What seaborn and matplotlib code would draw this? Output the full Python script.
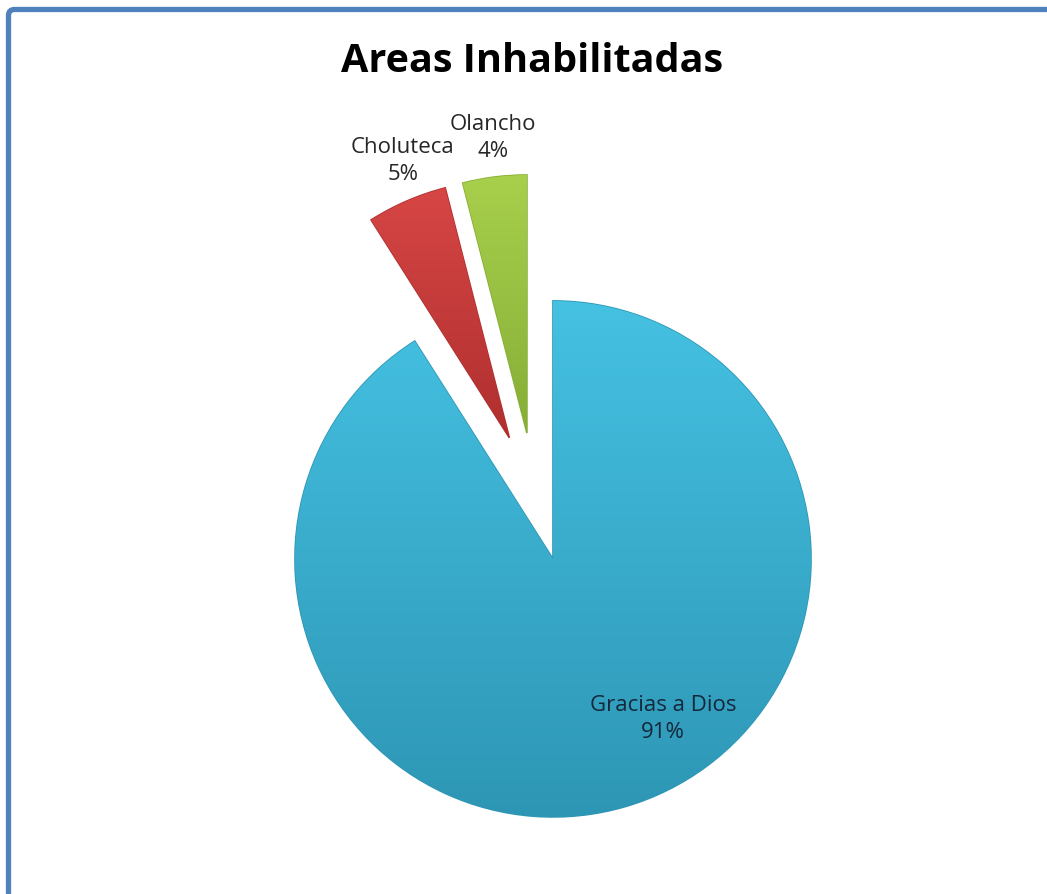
import numpy as np
import matplotlib
matplotlib.use("Agg")
import matplotlib.pyplot as plt
import seaborn as sns
from matplotlib.colors import LinearSegmentedColormap
from matplotlib.patches import FancyBboxPatch

# data
regions = ["Gracias a Dios", "Choluteca", "Olancho"]
shares = [91, 5, 4]
pct_labels = ["91%", "5%", "4%"]
title = "Areas Inhabilitadas"

# light (top) / dark (bottom) tone of each slice
tones = [("#45C1E2", "#2E96B5"), ("#D64645", "#B02F2F"), ("#A8D04C", "#86AE37")]

sns.set_style("white")
plt.rcParams['font.family'] = ['Open Sans', 'DejaVu Sans']

W, H = 1047, 894
fig = plt.figure(figsize=(W / 100, H / 100), dpi=100)
ax = fig.add_axes([0, 0, 1, 1])

R = 258
cx, cy = 535, H - 497
# every slice is pulled out a little
explode = [0.25 * R] * len(shares)

wedges, _ = ax.pie(
    shares,
    explode=explode,
    colors=[t[0] for t in tones],
    startangle=90,
    counterclock=False,
    center=(cx, cy),
    radius=R,
    wedgeprops=dict(linewidth=1.2),
)

# vertical gradient inside every slice
grad = np.linspace(0, 1, 256).reshape(-1, 1)
for w, (light, dark) in zip(wedges, tones):
    w.set_edgecolor(dark)
    x0, y0, x1, y1 = w.get_path().get_extents(w.get_transform() - ax.transData).extents
    cmap = LinearSegmentedColormap.from_list("g", [dark, light])
    im = ax.imshow(grad, cmap=cmap, extent=(x0, x1, y0, y1), origin="lower",
                   aspect="auto", zorder=w.get_zorder() + 0.1)
    im.set_clip_path(w)

ax.set_xlim(0, W)
ax.set_ylim(0, H)
ax.set_aspect("auto")
ax.axis("off")

# labels
label_pos = [(663, H - 719), (403, H - 161), (493, H - 138)]
label_col = ["#13283A", "#262626", "#262626"]
for name, pct, (lx, ly), c in zip(regions, pct_labels, label_pos, label_col):
    ax.text(lx, ly, f"{name}\n{pct}", ha="center", va="center",
            fontsize=16, color=c, linespacing=1.4, zorder=10)

ax.text(532, H - 62, title, ha="center", va="center", fontsize=28.5,
        fontweight="bold", color="black", zorder=10)

# outer frame (right and bottom edges fall outside the picture)
frame = FancyBboxPatch((8.5, -40), W + 40, H - 9.5 + 40,
                       boxstyle="round,pad=0,rounding_size=6",
                       transform=None, fill=False, edgecolor="#4F81BD",
                       linewidth=3.8)
fig.patches.append(frame)

fig.savefig("out.png", dpi=100)
